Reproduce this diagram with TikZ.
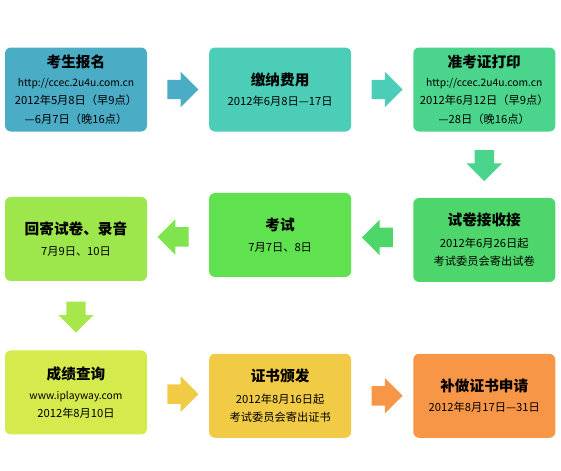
\documentclass[tikz,border=0pt]{standalone}
\usepackage{fontspec}
\setmainfont{Noto Sans CJK SC}
\usetikzlibrary{positioning,shapes.arrows}
\definecolor{Sky}{HTML}{4BACC6}
\definecolor{Aqua}{HTML}{4CCDB8}
\definecolor{Mint}{HTML}{4AD48C}
\definecolor{Leaf}{HTML}{4ED56B}
\definecolor{Grass}{HTML}{60E150}
\definecolor{Lime}{HTML}{9DE64B}
\definecolor{Citron}{HTML}{D5EA4C}
\definecolor{Gold}{HTML}{F2CB46}
\definecolor{Amber}{HTML}{F79646}
\newcommand\headfont{\fontsize{12.5}{15}\selectfont\bfseries}
\newcommand\urlfont{\fontsize{8.8}{15.5}\selectfont}
\tikzset{stagebox/.style={rounded corners=5pt,minimum width=4.26cm,minimum height=2.52cm,align=center,inner sep=2pt,font=\fontsize{9.6}{15.5}\selectfont},fat/.style={single arrow,single arrow head extend=0.24cm,minimum height=0.93cm,inner xsep=0pt,inner ysep=0.285cm,draw=none}}
\begin{document}
\begin{tikzpicture}[node distance=1.85cm]
\useasboundingbox (0,0) rectangle (16.83,-14.1);
\node[stagebox,fill=Sky] (reg) at (2.28,-2.685) {{\headfont 考生报名}\\[1pt]{\urlfont http://ccec.2u4u.com.cn}\\2012年5月8日（早9点）\\—6月7日（晚16点）};
\node[stagebox,fill=Aqua,right=of reg] (fee) {{\headfont 缴纳费用}\\[2pt]2012年6月8日—17日};
\node[stagebox,fill=Mint,right=of fee] (ticket) {{\headfont 准考证打印}\\[1pt]{\urlfont http://ccec.2u4u.com.cn}\\2012年6月12日（早9点）\\—28日（晚16点）};
\node[stagebox,fill=Leaf,below=1.98cm of ticket] (receive) {{\headfont 试卷接收接}\\[3pt]2012年6月26日起\\考试委员会寄出试卷};
\node[stagebox,fill=Grass,left=of receive,yshift=0.15cm] (exam) {{\headfont 考试}\\[2pt]7月7日、8日};
\node[stagebox,fill=Lime,left=of exam,yshift=-0.12cm] (return) {{\headfont 回寄试卷、录音}\\[2pt]7月9日、10日};
\node[stagebox,fill=Citron,below=2.07cm of return] (score) {{\headfont 成绩查询}\\[2pt]{\urlfont www.iplayway.com}\\2012年8月10日};
\node[stagebox,fill=Gold,right=of score,yshift=-0.1cm] (cert) {{\headfont 证书颁发}\\[3pt]2012年8月16日起\\考试委员会寄出证书};
\node[stagebox,fill=Amber,right=of cert] (reissue) {{\headfont 补做证书申请}\\[2pt]2012年8月17日—31日};
% connectors
\path (reg) -- (fee) node[fat,midway,fill=Sky] (a1) {};
\path (fee) -- (ticket) node[fat,midway,fill=Aqua] (a2) {};
\path (ticket) -- (receive) node[fat,midway,yshift=0.12cm,rotate=-90,fill=Mint] (a3) {};
\path (receive) -- (exam) node[fat,midway,rotate=180,fill=Leaf!95!Grass] (a4) {};
\path (exam) -- (return) node[fat,midway,rotate=180,fill=Grass!50!Lime] (a5) {};
\path (return) -- (score) node[fat,midway,yshift=0.1cm,rotate=-90,fill=Lime!80!Citron] (a6) {};
\path (score) -- (cert) node[fat,midway,fill=Gold] (a7) {};
\path (cert) -- (reissue) node[fat,midway,fill=Amber] (a8) {};
\end{tikzpicture}
\end{document}
